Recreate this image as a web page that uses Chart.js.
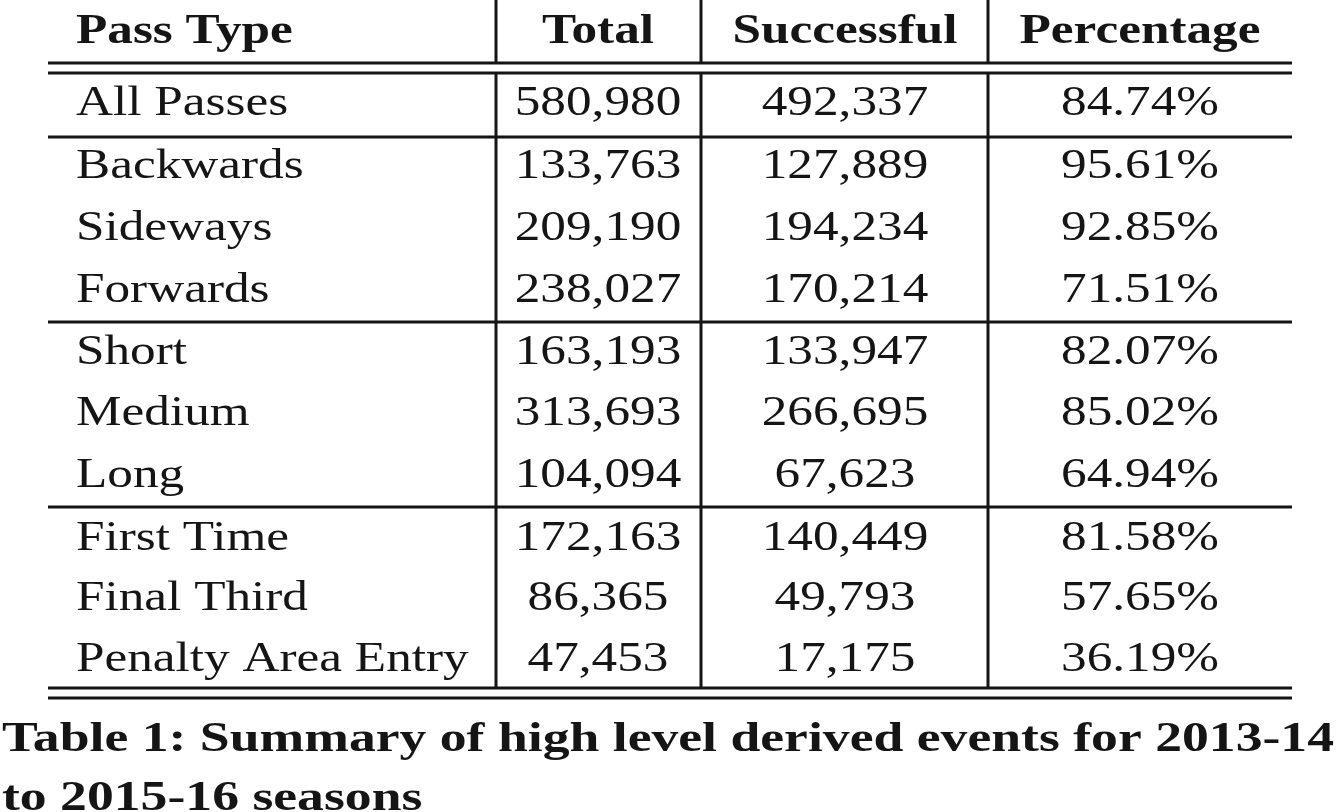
<!DOCTYPE html>
<html>
<head>
<meta charset="utf-8">
<script src="https://cdn.jsdelivr.net/npm/chart.js@4"></script>
<style>
  html, body { margin: 0; padding: 0; background: #fff; }
  #wrap { width: 1336px; height: 812px; }
</style>
</head>
<body>
<div id="wrap"><canvas id="tbl"></canvas></div>
<script>
// table data
const headers = ["Pass Type", "Total", "Successful", "Percentage"];
const passTypes = ["All Passes", "Backwards", "Sideways", "Forwards", "Short", "Medium", "Long",
  "First Time", "Final Third", "Penalty Area Entry"];
const totals = ["580,980", "133,763", "209,190", "238,027", "163,193", "313,693", "104,094",
  "172,163", "86,365", "47,453"];
const successful = ["492,337", "127,889", "194,234", "170,214", "133,947", "266,695", "67,623",
  "140,449", "49,793", "17,175"];
const percentages = ["84.74%", "95.61%", "92.85%", "71.51%", "82.07%", "85.02%", "64.94%",
  "81.58%", "57.65%", "36.19%"];
const caption = ["Table 1: Summary of high level derived events for 2013-14", "to 2015-16 seasons"];

const SERIF = '"Liberation Serif", "DejaVu Serif", serif';
const STRETCH = 1.22;

// row centre positions (in the 0..812 value space of the y scale)
const rowY = [102, 165, 227, 289, 351, 412, 474, 537, 597, 658];

// draw text stretched horizontally around its anchor
function drawText(ctx, txt, x, y, align, sx) {
  const w = ctx.measureText(txt).width * sx;
  let left = x;
  if (align === "center") left = x - w / 2;
  ctx.save();
  ctx.translate(left, y);
  ctx.scale(sx, 1);
  ctx.textAlign = "left";
  ctx.fillText(txt, 0, 0);
  ctx.restore();
}

const tablePlugin = {
  id: "tablePlugin",
  afterDraw(chart) {
    const ctx = chart.ctx;
    const x = chart.scales.x, y = chart.scales.y;
    const px = (v) => x.getPixelForValue(v);
    const py = (v) => y.getPixelForValue(v);
    ctx.save();
    ctx.fillStyle = "#151515";
    ctx.strokeStyle = "#151515";
    ctx.lineWidth = 3;

    const hline = (yy) => {
      ctx.beginPath(); ctx.moveTo(px(48), py(yy)); ctx.lineTo(px(1292), py(yy)); ctx.stroke();
    };
    const vline = (xx, y0, y1) => {
      ctx.beginPath(); ctx.moveTo(px(xx), py(y0)); ctx.lineTo(px(xx), py(y1)); ctx.stroke();
    };
    // rules
    hline(63); hline(73);
    hline(137); hline(322); hline(507);
    hline(688); hline(698);
    [496, 701, 988].forEach(xx => { vline(xx, 0, 63); vline(xx, 73, 688); });

    const cols = [
      { x: 76, align: "left" },
      { x: 598, align: "center" },
      { x: 845, align: "center" },
      { x: 1140, align: "center" }
    ];
    ctx.textBaseline = "middle";
    // header
    ctx.font = "bold 42px " + SERIF;
    headers.forEach((h, i) => drawText(ctx, h, px(cols[i].x), py(32), cols[i].align, STRETCH));
    // body
    ctx.font = "42px " + SERIF;
    const columns = [passTypes, totals, successful, percentages];
    rowY.forEach((ry, r) => {
      columns.forEach((col, c) => drawText(ctx, col[r], px(cols[c].x), py(ry + 2), cols[c].align, STRETCH));
    });
    // caption, first line fills the width
    ctx.font = "bold 42px " + SERIF;
    const fit = 1332 / ctx.measureText(caption[0]).width;
    drawText(ctx, caption[0], px(2), py(740), "left", fit);
    drawText(ctx, caption[1], px(2), py(799), "left", fit);
    ctx.restore();
  }
};

new Chart(document.getElementById("tbl"), {
  type: "scatter",
  data: { datasets: [{ data: [] }] },
  options: {
    responsive: true,
    maintainAspectRatio: false,
    animation: false,
    layout: { padding: 0 },
    plugins: { legend: { display: false }, tooltip: { enabled: false } },
    scales: {
      x: { type: "linear", min: 0, max: 1336, display: false },
      y: { type: "linear", min: 0, max: 812, reverse: true, display: false }
    }
  },
  plugins: [tablePlugin]
});
</script>
</body>
</html>
